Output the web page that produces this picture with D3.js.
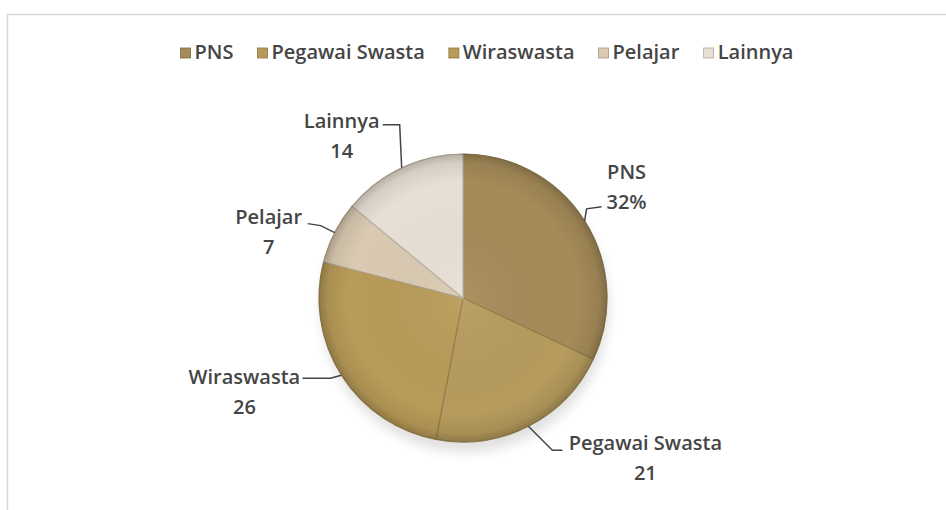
<!DOCTYPE html>
<html>
<head>
<meta charset="utf-8">
<script src="https://cdn.jsdelivr.net/npm/d3@7"></script>
<style>
  body { margin: 0; background: #fff; }
  svg { display: block; }
</style>
</head>
<body>
<div id="chart"></div>
<script>
// data
var categories = ["PNS", "Pegawai Swasta", "Wiraswasta", "Pelajar", "Lainnya"];
var values = [32, 21, 26, 7, 14];
var valueLabels = ["32%", "21", "26", "7", "14"];
var colors = ["#a58b59", "#b69b5d", "#b89b58", "#dacab2", "#e8e0d5"];

// leader + label layout, offsets from the slice's edge point
var labelLayout = [
  {leader: [[2, -12], [17, -14]], text: [42, -49]},
  {leader: [[24, 24], [34, 24]], text: [117, 17]},
  {leader: [[-11, 3], [-39, 3]], text: [-97, 2]},
  {leader: [[-14, -7], [-27, -9]], text: [-66, -16]},
  {leader: [[-2, -43], [-19, -43]], text: [-60, -47]}
];

var width = 946, height = 510;
var cx = 463, cy = 298, r = 144;
var fontFam = "'Open Sans', 'Liberation Sans', sans-serif";

var svg = d3.select("#chart").append("svg")
  .attr("width", width)
  .attr("height", height);

// faint frame like the cropped chart area
svg.append("path")
  .attr("d", "M7.5," + height + "V14.5H" + width)
  .attr("fill", "none")
  .attr("stroke", "#d6d6d6")
  .attr("stroke-width", 1.5);

var defs = svg.append("defs");
var shade = defs.append("radialGradient").attr("id", "shade")
  .attr("cx", "50%").attr("cy", "50%").attr("r", "50%");
shade.append("stop").attr("offset", "0%").attr("stop-color", "#fff").attr("stop-opacity", 0.06);
shade.append("stop").attr("offset", "80%").attr("stop-color", "#000").attr("stop-opacity", 0);
shade.append("stop").attr("offset", "94%").attr("stop-color", "#000").attr("stop-opacity", 0.08);
shade.append("stop").attr("offset", "100%").attr("stop-color", "#000").attr("stop-opacity", 0.22);

defs.append("filter").attr("id", "blur")
  .append("feGaussianBlur").attr("stdDeviation", 6);

var pie = d3.pie().sort(null).value(d => d)(values);
var arc = d3.arc().innerRadius(0).outerRadius(r);
var edgeArc = d3.arc().innerRadius(r).outerRadius(r);

var g = svg.append("g").attr("transform", `translate(${cx},${cy})`);

// soft shadow under the pie
g.append("ellipse")
  .attr("cx", 2).attr("cy", 10)
  .attr("rx", r).attr("ry", r)
  .attr("fill", "#000").attr("opacity", 0.12)
  .attr("filter", "url(#blur)");

g.selectAll("path.slice")
  .data(pie)
  .join("path")
  .attr("class", "slice")
  .attr("d", arc)
  .attr("fill", (d, i) => colors[i])
  .attr("stroke", (d, i) => d3.color(colors[i]).darker(0.6))
  .attr("stroke-width", 1.2);

g.append("circle")
  .attr("r", r)
  .attr("fill", "url(#shade)")
  .attr("stroke", "#8c7a55")
  .attr("stroke-opacity", 0.35)
  .attr("stroke-width", 1);

// leader lines and labels
pie.forEach(function(d, i) {
  var e = edgeArc.centroid(d);
  var L = labelLayout[i];
  var pts = [e].concat(L.leader.map(p => [e[0] + p[0], e[1] + p[1]]));
  g.append("path")
    .attr("d", d3.line()(pts))
    .attr("fill", "none")
    .attr("stroke", "#444")
    .attr("stroke-width", 1.5);

  var t = g.append("text")
    .attr("x", e[0] + L.text[0])
    .attr("y", e[1] + L.text[1])
    .attr("text-anchor", "middle")
    .style("font-family", fontFam)
    .style("font-size", "20px")
    .style("font-weight", 600)
    .style("fill", "#454545");
  t.append("tspan").attr("x", e[0] + L.text[0]).attr("dy", "0.35em").text(categories[i]);
  t.append("tspan").attr("x", e[0] + L.text[0]).attr("dy", "30px").text(valueLabels[i]);
});

// legend
var legend = svg.append("g").attr("transform", "translate(0,52)");
var items = legend.selectAll("g.item")
  .data(categories)
  .join("g")
  .attr("class", "item");
items.append("rect")
  .attr("y", -4)
  .attr("width", 10).attr("height", 10)
  .attr("fill", (d, i) => colors[i])
  .attr("stroke", (d, i) => d3.color(colors[i]).darker(0.8))
  .attr("stroke-width", 0.8);
items.append("text")
  .attr("x", 14)
  .attr("dy", "0.35em")
  .style("font-family", fontFam)
  .style("font-size", "20px")
  .style("font-weight", 600)
  .style("fill", "#454545")
  .text(d => d);

var xPos = 0, gap = 24;
items.each(function() {
  var w = this.getBBox().width;
  d3.select(this).attr("transform", `translate(${xPos},0)`);
  xPos += w + gap;
});
var totalW = xPos - gap;
legend.attr("transform", `translate(${487 - totalW / 2},52)`);
</script>
</body>
</html>
